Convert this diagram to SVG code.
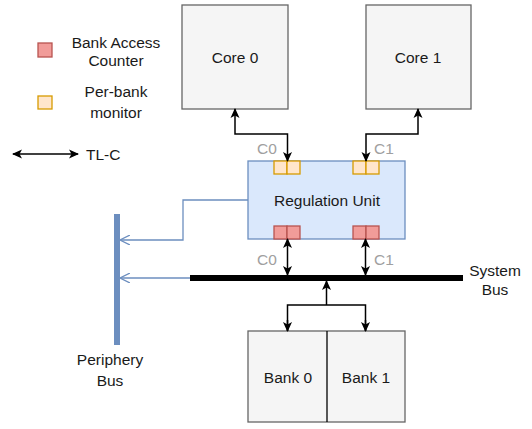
<svg xmlns="http://www.w3.org/2000/svg" width="532" height="429" viewBox="0 0 532 429">
<style>
text{font-family:"Liberation Sans",Arial,sans-serif;font-size:15.5px;fill:#1a1a1a;text-anchor:middle;dominant-baseline:central}
.lbl{fill:#a0a0a0}
.box{fill:#f5f5f5;stroke:#666;stroke-width:1.3}
.mon{fill:#ffe6cc;stroke:#d79b00;stroke-width:1.3}
.cnt{fill:#f19c99;stroke:#b85450;stroke-width:1.3}
.c{fill:none;stroke:#000;stroke-width:1.5}
.p{fill:none;stroke:#6c8ebf;stroke-width:1.3}
</style>
<defs>
<marker id="a" viewBox="0 0 10 10" refX="9" refY="5" markerWidth="10" markerHeight="10" markerUnits="userSpaceOnUse" orient="auto-start-reverse"><path d="M0,0.5 L10,5 L0,9.5 L2.5,5 Z" fill="#000"/></marker>
<marker id="b" viewBox="0 0 10 10" refX="9" refY="5" markerWidth="10" markerHeight="10" markerUnits="userSpaceOnUse" orient="auto-start-reverse"><path d="M0,0 L10,5 L0,10" fill="none" stroke="#6c8ebf" stroke-width="1.3"/></marker>
</defs>
<g id="legend">
<rect class="cnt" x="38" y="43" width="14" height="14"/>
<text x="116" y="42">Bank Access</text><text x="116" y="60">Counter</text>
<rect class="mon" x="38" y="96" width="14" height="13"/>
<text x="116" y="91">Per-bank</text><text x="116" y="112">monitor</text>
<line class="c" x1="13" y1="154" x2="78" y2="154" marker-start="url(#a)" marker-end="url(#a)"/>
<text x="86" y="154" style="text-anchor:start">TL-C</text>
</g>
<g id="core0"><rect class="box" x="182" y="5" width="106" height="104"/><text x="235" y="57">Core 0</text></g>
<g id="core1"><rect class="box" x="366" y="5" width="105" height="104"/><text x="418" y="57">Core 1</text></g>
<g id="regulation-unit">
<rect x="248" y="161" width="157" height="78" fill="#dae8fc" stroke="#6c8ebf" stroke-width="1.3"/>
<text x="327" y="200">Regulation Unit</text>
<rect class="mon" x="274" y="161" width="13" height="13"/><rect class="mon" x="287" y="161" width="13" height="13"/>
<rect class="mon" x="353" y="161" width="13" height="13"/><rect class="mon" x="366" y="161" width="13" height="13"/>
<rect class="cnt" x="274" y="226" width="13" height="13"/><rect class="cnt" x="287" y="226" width="13" height="13"/>
<rect class="cnt" x="353" y="226" width="13" height="13"/><rect class="cnt" x="366" y="226" width="13" height="13"/>
</g>
<g id="system-bus"><line x1="190" y1="278" x2="463" y2="278" stroke="#000" stroke-width="6"/><text x="495" y="270">System</text><text x="495" y="289">Bus</text></g>
<g id="periphery-bus"><line x1="117" y1="214" x2="117" y2="345" stroke="#6c8ebf" stroke-width="6"/><text x="110" y="359">Periphery</text><text x="110" y="380">Bus</text></g>
<g id="banks">
<rect class="box" x="248" y="331" width="157" height="91"/>
<line x1="327" y1="331" x2="327" y2="422" stroke="#000" stroke-width="1.3"/>
<text x="288" y="377">Bank 0</text><text x="366" y="377">Bank 1</text>
</g>
<g id="connectors">
<path class="c" d="M235,109 V134 H287.5 V161" marker-start="url(#a)" marker-end="url(#a)"/>
<path class="c" d="M418,109 V134 H366 V161" marker-start="url(#a)" marker-end="url(#a)"/>
<line class="c" x1="287.5" y1="239" x2="287.5" y2="275" marker-start="url(#a)" marker-end="url(#a)"/>
<line class="c" x1="365.5" y1="239" x2="365.5" y2="275" marker-start="url(#a)" marker-end="url(#a)"/>
<path class="c" d="M326.5,281 V305" marker-start="url(#a)"/>
<path class="c" d="M287.5,305 H365.5 M287.5,304.25 V331 M365.5,304.25 V331"/>
<line x1="287.5" y1="320" x2="287.5" y2="331" class="c" marker-end="url(#a)"/>
<line x1="365.5" y1="320" x2="365.5" y2="331" class="c" marker-end="url(#a)"/>
<path class="p" d="M248,200 H183 V240 H121" marker-end="url(#b)"/>
<path class="p" d="M190,278 H121" marker-end="url(#b)"/>
<text class="lbl" x="267" y="148">C0</text><text class="lbl" x="384" y="148">C1</text>
<text class="lbl" x="267" y="259">C0</text><text class="lbl" x="384" y="259">C1</text>
</g>
</svg>
